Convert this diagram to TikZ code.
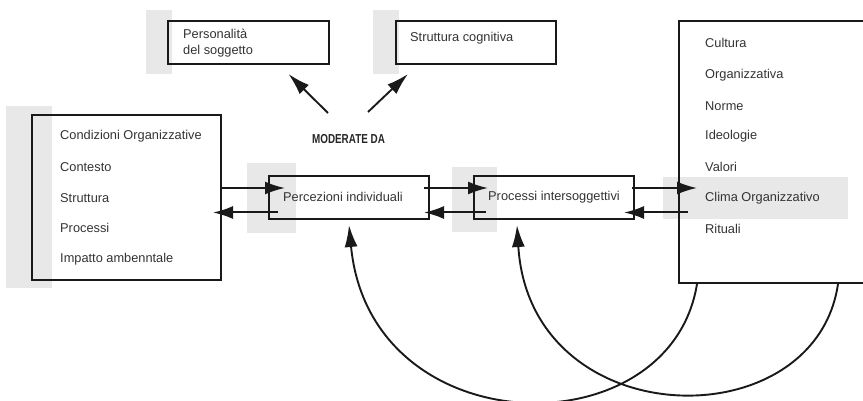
\documentclass[tikz,border=0pt]{standalone}
\usepackage{fontspec}
\setmainfont{Liberation Sans}
\usetikzlibrary{arrows.meta,calc}
\begin{document}
\begin{tikzpicture}[x=1pt,y=-1pt,
  box/.style={draw=black!90,line width=2pt,inner sep=0pt},
  lbl/.style={anchor=west,inner sep=0pt,text=black!80,font=\fontsize{12.8}{14}\selectfont},
  arr/.style={draw=black!90,line width=2pt,-{Latex[length=20pt,width=13pt]}},
  bigarr/.style={draw=black!90,line width=1.9pt,-{Latex[length=22pt,width=13pt]}},
  shade/.style={fill=gray!18,draw=none}]
\useasboundingbox (0,0) rectangle (863,401);
\clip (0,0) rectangle (863,401);
% scan shadows
\fill[shade] (146,10) rectangle (172,74);
\fill[shade] (373,10) rectangle (399,74);
\fill[shade] (6,106) rectangle (52,288);
\fill[shade] (247,163) rectangle (296,233);
\fill[shade] (452,167) rectangle (497,232);
\fill[shade] (663,177) rectangle (848,219);
% boxes
\node[box,minimum width=161pt,minimum height=43pt] (pers) at (248.5,42.5) {};
\node[box,minimum width=160pt,minimum height=43pt] (strut) at (476,42.5) {};
\node[box,minimum width=189pt,minimum height=165pt] (left) at (126.5,197.5) {};
\node[box,minimum width=160pt,minimum height=43pt] (perc) at (349,197.5) {};
\node[box,minimum width=160pt,minimum height=43pt] (proc) at (554,197.5) {};
\node[box,minimum width=191pt,minimum height=262pt] (right) at (774.5,152) {};
% texts
\node[lbl] (t1) at (183,34) {Personalità};
\node[lbl] (t2) at (183,51) {del soggetto};
\node[lbl] (t3) at (410,38) {Struttura cognitiva};
\node[lbl] (t4) at (283,197) {Percezioni individuali};
\node[lbl] (t5) at (488,197) {Processi intersoggettivi};
\node[lbl] (l1) at (60,136) {Condizioni Organizzative};
\node[lbl] (l2) at (60,167) {Contesto};
\node[lbl] (l3) at (60,198) {Struttura};
\node[lbl] (l4) at (60,228) {Processi};
\node[lbl] (l5) at (60,259) {Impatto ambenntale};
\node[lbl] (r1) at (705,43) {Cultura};
\node[lbl] (r2) at (705,75) {Organizzativa};
\node[lbl] (r3) at (705,106) {Norme};
\node[lbl] (r4) at (705,136) {Ideologie};
\node[lbl] (r5) at (705,167) {Valori};
\node[lbl] (r6) at (705,198) {Clima Organizzativo};
\node[lbl] (r7) at (705,229) {Rituali};
\node[inner sep=0pt,text=black!85] (mod) at (348.5,139) {\scalebox{0.76}[1]{\fontsize{13}{14}\selectfont\bfseries MODERATE DA}};
% moderate arrows
\coordinate (m1) at (328,113);
\coordinate (m2) at (368,112);
\draw[bigarr] (m1) -- ($(pers.south)+(40,9)$);
\draw[bigarr] (m2) -- ($(strut.south)+(-68,9)$);
% horizontal arrows
\draw[arr] ($(left.east)+(0,-9.5)$) -- ($(perc.west)+(17,-9.5)$);
\draw[arr] ($(perc.west)+(10,15)$) -- ($(left.east)+(-9,15)$);
\draw[arr] ($(perc.east)+(-6,-9.5)$) -- ($(proc.west)+(15,-9.5)$);
\draw[arr] ($(proc.west)+(13,15)$) -- ($(perc.east)+(-6,15)$);
\draw[arr] ($(proc.east)+(-3,-9.5)$) -- ($(right.west |- proc.east)+(19,-9.5)$);
\draw[arr] ($(right.west |- proc.east)+(10,15)$) -- ($(proc.east)+(-11,15)$);
% curves
\draw[bigarr] ($(right.south)+(-77.5,0)$) .. controls +(-27,167) and +(21,221) .. ($(perc.south)+(0,5)$);
\draw[bigarr] ($(right.south)+(63.5,0)$) .. controls +(-23,157) and +(13,211) .. ($(proc.south)+(-37,5)$);
\end{tikzpicture}
\end{document}
